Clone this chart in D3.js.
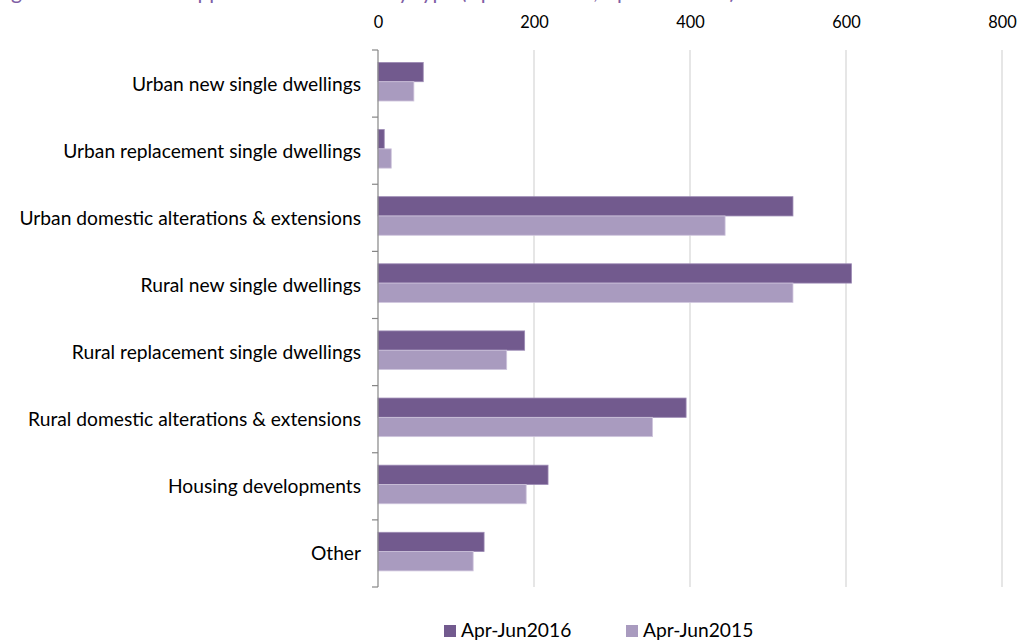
<!DOCTYPE html>
<html>
<head>
<meta charset="utf-8">
<script src="https://cdnjs.cloudflare.com/ajax/libs/d3/7.8.5/d3.min.js"></script>
<style>
  html, body { margin: 0; padding: 0; background: #ffffff; }
  svg { display: block; }
  text { font-family: Lato, "Open Sans", sans-serif; }
</style>
</head>
<body>
<svg id="chart" width="1017" height="642"></svg>
<script>
// Applications by development type, two quarters
const categories = [
  "Urban new single dwellings",
  "Urban replacement single dwellings",
  "Urban domestic alterations & extensions",
  "Rural new single dwellings",
  "Rural replacement single dwellings",
  "Rural domestic alterations & extensions",
  "Housing developments",
  "Other"
];
const seriesNames = ["Apr-Jun2016", "Apr-Jun2015"];
const values2016 = [58, 8, 532, 607, 188, 395, 218, 136];
const values2015 = [46, 17, 445, 532, 165, 352, 190, 122];
const xTicks = [0, 200, 400, 600, 800];
const titleText = "Figure 3: Residential applications received by type (Apr-Jun 2016, Apr-Jun 2015)";

const colors = { "Apr-Jun2016": "#725A8E", "Apr-Jun2015": "#A99BBF" };

const svg = d3.select("#chart");
const plot = { left: 378, right: 1002, top: 50, bottom: 587 };

const x = d3.scaleLinear().domain([0, 800]).range([plot.left, plot.right]);
const yCat = d3.scaleBand().domain(categories).range([plot.top, plot.bottom]).padding(0);
const ySub = d3.scaleBand().domain(seriesNames)
  .range([yCat.bandwidth() * 0.185, yCat.bandwidth() * 0.76]);

// Horizontal condensing factor for the text, so glyphs look like a narrow UI font
const probe = svg.append("text").attr("font-size", 20).text(categories[5]);
const sx = 333 / probe.node().getComputedTextLength();
probe.remove();

// Title (runs off the top edge of the page)
svg.append("text")
  .attr("transform", `translate(-6,-1) scale(${sx},1)`)
  .attr("font-size", 22)
  .attr("fill", "#7F5FA6")
  .text(titleText);

// Vertical gridlines
svg.append("g").selectAll("line")
  .data(xTicks.filter(d => d > 0))
  .join("line")
  .attr("x1", d => x(d)).attr("x2", d => x(d))
  .attr("y1", plot.top).attr("y2", plot.bottom)
  .attr("stroke", "#d6d6d6").attr("stroke-width", 1.2);

// Top value axis labels
const xAxis = d3.axisTop(x).tickValues(xTicks).tickSize(0).tickPadding(0);
const gx = svg.append("g").attr("transform", `translate(0,28)`).call(xAxis);
gx.select(".domain").remove();
gx.selectAll("text")
  .attr("font-size", 17)
  .attr("fill", "#000")
  .attr("dy", 0)
  .attr("font-family", "Lato, sans-serif")
  .each(function () {
    const t = d3.select(this);
    const tx = +t.attr("x") || 0;
    t.attr("transform", `scale(${sx},1)`).attr("x", tx / sx);
  });

// Bars
const rows = categories.map((c, i) => ({ cat: c, vals: [
  { series: seriesNames[0], value: values2016[i] },
  { series: seriesNames[1], value: values2015[i] }
]}));

const groups = svg.append("g").selectAll("g")
  .data(rows).join("g")
  .attr("transform", d => `translate(0,${yCat(d.cat)})`);

groups.selectAll("rect")
  .data(d => d.vals).join("rect")
  .attr("x", x(0))
  .attr("y", d => ySub(d.series))
  .attr("width", d => x(d.value) - x(0))
  .attr("height", ySub.bandwidth())
  .attr("fill", d => colors[d.series])
  .attr("stroke", d => d.series === seriesNames[0] ? "#9d8bb5" : "#cfc5dd")
  .attr("stroke-width", 0.8);

// Category axis with boundary ticks
const yAxisG = svg.append("g");
yAxisG.append("line")
  .attr("x1", plot.left).attr("x2", plot.left)
  .attr("y1", plot.top).attr("y2", plot.bottom)
  .attr("stroke", "#868686").attr("stroke-width", 1.2);
const boundaries = categories.map(c => yCat(c)).concat([plot.bottom]);
yAxisG.selectAll("line.tick")
  .data(boundaries).join("line")
  .attr("class", "tick")
  .attr("x1", plot.left - 6).attr("x2", plot.left)
  .attr("y1", d => d).attr("y2", d => d)
  .attr("stroke", "#868686").attr("stroke-width", 1.2);

yAxisG.selectAll("text.cat")
  .data(categories).join("text")
  .attr("class", "cat")
  .attr("font-size", 20)
  .attr("fill", "#000")
  .attr("text-anchor", "end")
  .attr("transform", d => `translate(361,${yCat(d) + yCat.bandwidth() / 2 + 7}) scale(${sx},1)`)
  .text(d => d);

// Legend
const legendItems = [
  { name: seriesNames[0], x: 444 },
  { name: seriesNames[1], x: 626 }
];
const lg = svg.append("g").selectAll("g")
  .data(legendItems).join("g")
  .attr("transform", d => `translate(${d.x},625)`);
lg.append("rect")
  .attr("width", 12).attr("height", 12)
  .attr("fill", d => colors[d.name]);
lg.append("text")
  .attr("font-size", 20)
  .attr("fill", "#000")
  .attr("transform", `translate(17,12) scale(${sx},1)`)
  .text(d => d.name);
</script>
</body>
</html>
